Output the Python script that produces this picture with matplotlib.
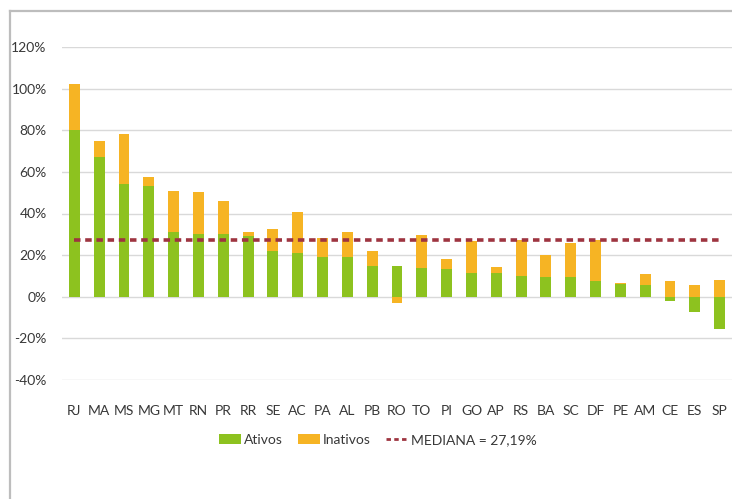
import matplotlib
matplotlib.use("Agg")
import matplotlib.pyplot as plt
from matplotlib.lines import Line2D
from matplotlib.patches import Patch
import numpy as np

estados = ["RJ", "MA", "MS", "MG", "MT", "RN", "PR", "RR", "SE", "AC", "PA", "AL", "PB",
           "RO", "TO", "PI", "GO", "AP", "RS", "BA", "SC", "DF", "PE", "AM", "CE", "ES", "SP"]
ativos = [80, 67, 54, 53, 31, 30, 30, 29, 22, 21, 19, 19, 15,
          15, 14, 13.5, 11.5, 11.5, 10, 9.5, 9.5, 7.5, 6, 5.5, -2, -7.5, -15.5]
inativos = [22, 8, 24, 4.4, 20, 20.5, 16, 2, 10.5, 19.5, 9, 12, 7,
            -3, 15.5, 4.5, 15.5, 3, 17.5, 10.5, 16.5, 20, 0.5, 5.5, 7.5, 5.5, 8]
mediana = 27.19
y_ticks = [-40, -20, 0, 20, 40, 60, 80, 100, 120]

plt.rcParams["font.family"] = ["Lato", "DejaVu Sans"]

verde = "#8DC21F"
laranja = "#F6B424"
vermelho = "#9E3440"
texto = "#383838"

fig = plt.figure(figsize=(7.32, 4.99), dpi=100)
ax = fig.add_axes([62 / 732, 119 / 499, 670 / 732, 333 / 499])

x = np.arange(len(estados))
at = np.array(ativos, dtype=float)
ina = np.array(inativos, dtype=float)
# stacked like a spreadsheet: positives grow up, negatives grow down
base_in = np.where(np.sign(ina) == np.sign(at), at, 0.0)

largura = 0.44
ax.bar(x, at, width=largura, color=verde, zorder=2)
ax.bar(x, ina, bottom=base_in, width=largura, color=laranja, zorder=2)
ax.plot([x[0], x[-1]], [mediana, mediana], color=vermelho, lw=2.6,
        dashes=(1.8, 1.3), zorder=3)

ax.set_xlim(-0.5, len(estados) - 0.5)
ax.set_ylim(-40, 120)
ax.set_yticks(y_ticks)
ax.set_yticklabels([f"{v}%" for v in y_ticks])
ax.set_xticks(x)
ax.set_xticklabels(estados)
ax.yaxis.grid(True, color="#D9D9D9", lw=1.0, zorder=0)
ax.set_axisbelow(True)
for s in ax.spines.values():
    s.set_visible(False)
ax.tick_params(axis="both", length=0, labelsize=10, colors=texto)
ax.tick_params(axis="y", pad=11)
ax.tick_params(axis="x", pad=18)

handles = [Patch(facecolor=verde, label="Ativos"),
           Patch(facecolor=laranja, label="Inativos"),
           Line2D([0], [0], color=vermelho, lw=2, dashes=(1.6, 1.2), label="MEDIANA = 27,19%")]
leg = fig.legend(handles=handles, loc="center", bbox_to_anchor=(378 / 732, 1 - 440 / 499),
                 ncol=3, frameon=False, fontsize=10, handlelength=1.6, handleheight=0.7,
                 handletextpad=0.2, columnspacing=1.1)
for t in leg.get_texts():
    t.set_color(texto)

# outer frame (left and top edges)
fig.add_artist(Line2D([9.5 / 732, 9.5 / 732], [0, 1 - 11 / 499], color="#BDBDBD", lw=1.6,
                      transform=fig.transFigure))
fig.add_artist(Line2D([9.5 / 732, 1], [1 - 11 / 499, 1 - 11 / 499], color="#BDBDBD", lw=1.6,
                      transform=fig.transFigure))

fig.savefig("out.png", dpi=100, facecolor="white")
